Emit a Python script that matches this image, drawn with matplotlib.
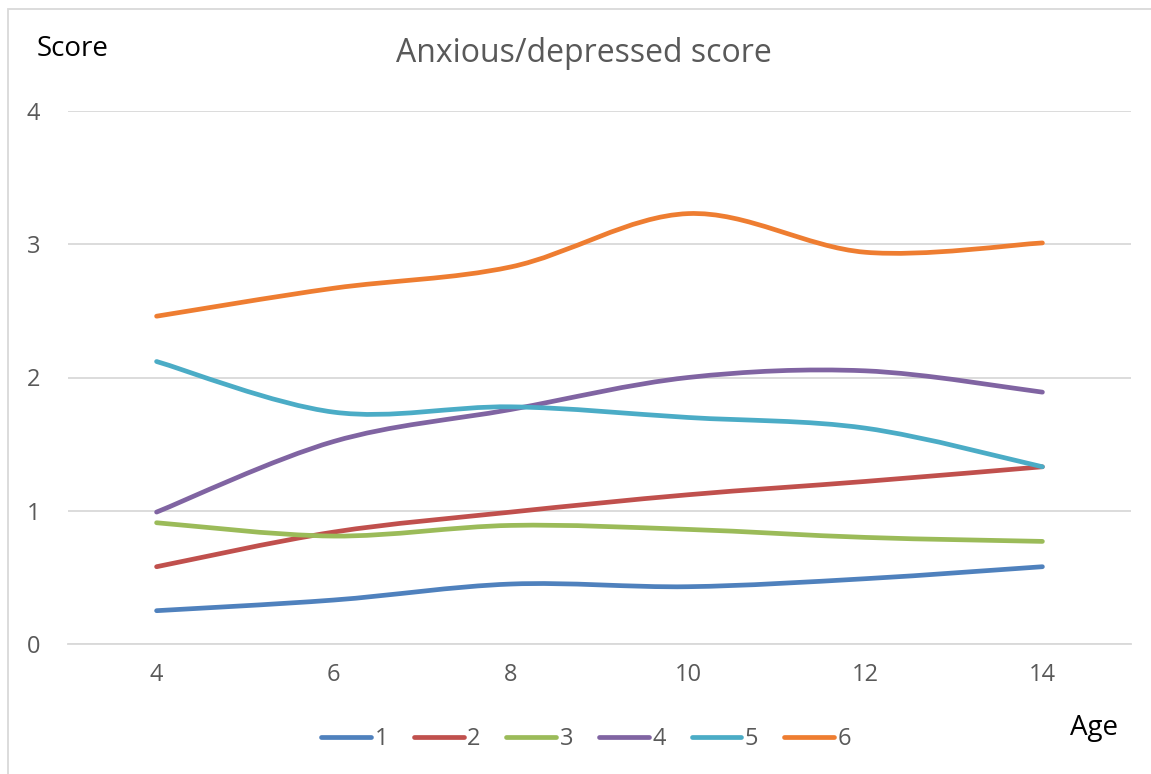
import numpy as np
import matplotlib
matplotlib.use('Agg')
import matplotlib.pyplot as plt
from matplotlib.path import Path
from matplotlib.patches import PathPatch, Rectangle
from matplotlib.lines import Line2D

plt.rcParams['font.family'] = ['Open Sans', 'DejaVu Sans']

ages = [4, 6, 8, 10, 12, 14]
group_names = ["1", "2", "3", "4", "5", "6"]
g1 = [0.25, 0.33, 0.45, 0.43, 0.49, 0.58]
g2 = [0.58, 0.84, 0.99, 1.12, 1.22, 1.33]
g3 = [0.91, 0.81, 0.89, 0.86, 0.80, 0.77]
g4 = [0.99, 1.52, 1.76, 2.00, 2.05, 1.89]
g5 = [2.12, 1.74, 1.78, 1.70, 1.62, 1.33]
g6 = [2.46, 2.67, 2.83, 3.23, 2.94, 3.01]
colors = ["#4F81BD", "#C0504D", "#9BBB59", "#8064A2", "#4BACC6", "#EE7D31"]


def smooth_path(x, y):
    # Excel-style smoothed line: cubic Bezier through each point
    x = np.asarray(x, float)
    y = np.asarray(y, float)
    n = len(x)
    verts = [(x[0], y[0])]
    codes = [Path.MOVETO]
    for i in range(n - 1):
        i0 = max(i - 1, 0)
        i3 = min(i + 2, n - 1)
        c1 = (x[i] + (x[i + 1] - x[i0]) / 6, y[i] + (y[i + 1] - y[i0]) / 6)
        c2 = (x[i + 1] - (x[i3] - x[i]) / 6, y[i + 1] - (y[i3] - y[i]) / 6)
        verts += [c1, c2, (x[i + 1], y[i + 1])]
        codes += [Path.CURVE4] * 3
    return Path(verts, codes)


fig = plt.figure(figsize=(11.51, 7.74), dpi=100)
ax = fig.add_axes([68 / 1151, 130 / 774, 1063 / 1151, 533 / 774])

for vals, c in zip([g1, g2, g3, g4, g5, g6], colors):
    ax.add_patch(PathPatch(smooth_path(ages, vals), facecolor='none',
                           edgecolor=c, linewidth=3.4, capstyle='round'))

ax.set_xlim(3, 15)
ax.set_ylim(0, 4)
ax.set_xticks(ages)
ax.set_yticks([0, 1, 2, 3, 4])
ax.grid(True, axis='y', color='#D9D9D9', linewidth=1.3)
ax.set_axisbelow(True)
for s in ['top', 'right', 'left']:
    ax.spines[s].set_visible(False)
ax.spines['bottom'].set_color('#D9D9D9')
ax.spines['bottom'].set_linewidth(1.3)
ax.tick_params(axis='both', length=0, labelsize=17, labelcolor='#595959')
ax.tick_params(axis='x', pad=14)
ax.tick_params(axis='y', pad=20)

fig.text(584 / 1151, 1 - 54 / 774, "Anxious/depressed score", ha='center',
         va='center', fontsize=23, color='#595959')
fig.text(37 / 1151, 1 - 49 / 774, "Score", ha='left', va='center',
         fontsize=20, color='black')
fig.text(1070 / 1151, 1 - 728 / 774, "Age", ha='left', va='center',
         fontsize=20, color='black')

handles = [Line2D([], [], color=c, linewidth=3.4, solid_capstyle='round')
           for c in colors]
fig.legend(handles, group_names, loc='center', bbox_to_anchor=(586 / 1151, 1 - 739 / 774),
           ncol=6, frameon=False, fontsize=17, labelcolor='#595959',
           handlelength=2.1, handletextpad=0.15, columnspacing=1.1)

fig.patches.append(Rectangle((8 / 1151, -0.01), 1.1, 1 - 9 / 774 + 0.01,
                             transform=fig.transFigure, fill=False,
                             edgecolor='#D9D9D9', linewidth=1.3))

plt.savefig('out.png', dpi=100)
plt.close()
